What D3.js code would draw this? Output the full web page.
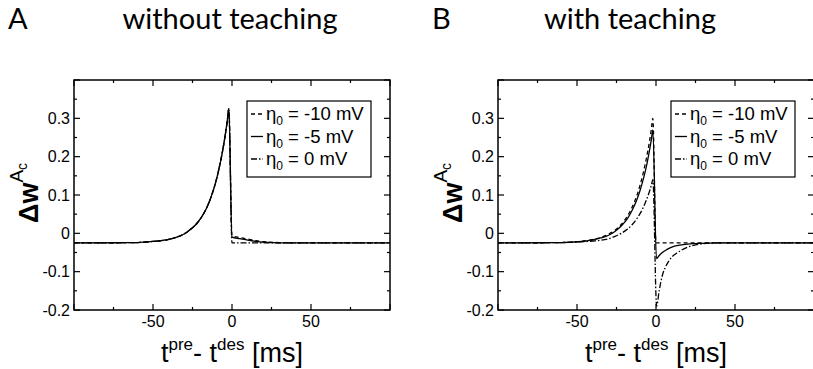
<!DOCTYPE html>
<html>
<head>
<meta charset="utf-8">
<script src="https://cdn.jsdelivr.net/npm/d3@7"></script>
<style>
  body { margin: 0; background: #fff; }
  svg { display: block; }
  text { fill: #000; }
</style>
</head>
<body>
<svg id="chart" width="813" height="369"></svg>
<script>
// tick values and legend entries
var xTicks = [-50, 0, 50];
var yTicks = [-0.2, -0.1, 0, 0.1, 0.2, 0.3];
var legendLabels = ["-10 mV", "-5 mV", "0 mV"];
var panelNames = ["A", "B"];
var panelTitles = ["without teaching", "with teaching"];

// panel A : rising part is the same for all three curves
var riseA = [[-100,-0.025],[-70,-0.0245],[-60,-0.024],[-50,-0.021],[-40,-0.016],[-35,-0.010],
  [-30,-0.001],[-26,0.011],[-22,0.027],[-18,0.051],[-15,0.076],[-12,0.110],[-10,0.138],
  [-8,0.173],[-6,0.214],[-4,0.264],[-3,0.293],[-2,0.325]];
var tailA10 = [[0,-0.006],[5,-0.011],[10,-0.015],[15,-0.019],[20,-0.022],[30,-0.024],[40,-0.025],[100,-0.025]];
var tailA5  = [[0,-0.010],[5,-0.014],[10,-0.018],[15,-0.021],[20,-0.023],[30,-0.025],[100,-0.025]];
var tailA0  = [[0,-0.025],[100,-0.025]];

// panel B
var b10 = [[-100,-0.025],[-70,-0.0245],[-60,-0.024],[-50,-0.022],[-40,-0.016],[-35,-0.011],
  [-30,-0.002],[-26,0.008],[-22,0.023],[-18,0.046],[-15,0.069],[-12,0.100],[-10,0.127],
  [-8,0.159],[-6,0.197],[-4,0.243],[-3,0.270],[-2,0.300],
  [0,-0.025],[100,-0.025]];
var b5 = [[-100,-0.025],[-70,-0.0245],[-60,-0.024],[-50,-0.022],[-40,-0.017],[-35,-0.012],
  [-30,-0.005],[-26,0.005],[-22,0.019],[-18,0.039],[-15,0.061],[-12,0.089],[-10,0.113],
  [-8,0.142],[-6,0.176],[-4,0.219],[-3,0.243],[-2,0.270],
  [0.3,-0.066],[2,-0.058],[4,-0.050],[7,-0.042],[10,-0.036],[15,-0.031],[20,-0.028],
  [28,-0.026],[40,-0.025],[100,-0.025]];
var b0 = [[-100,-0.025],[-60,-0.024],[-50,-0.023],[-40,-0.020],[-35,-0.018],[-30,-0.014],
  [-26,-0.008],[-22,0.000],[-18,0.011],[-15,0.023],[-12,0.039],[-10,0.052],[-8,0.068],
  [-6,0.088],[-4,0.111],[-3,0.125],[-2,0.140],
  [0.4,-0.190],[2,-0.150],[4,-0.110],[6,-0.088],[8,-0.073],[10,-0.062],[13,-0.052],
  [16,-0.044],[20,-0.036],[25,-0.030],[30,-0.027],[40,-0.025],[100,-0.025]];

var seriesA = [riseA.concat(tailA10), riseA.concat(tailA5), riseA.concat(tailA0)];
var seriesB = [b10, b5, b0];

var dashes = ["4,3", null, "6,2,1.5,2"];

var svg = d3.select("#chart");
var FONT = "'Liberation Sans', Arial, Helvetica, sans-serif";

function drawPanel(i, left, right, titleX, series) {
  var top = 80, bottom = 310;
  var x = d3.scaleLinear().domain([-100, 100]).range([left, right]);
  var y = d3.scaleLinear().domain([-0.2, 0.4]).range([bottom, top]);
  var g = svg.append("g");

  // title
  g.append("text").attr("x", left - 66).attr("y", 29)
    .attr("font-family", "Lato, sans-serif").attr("font-size", 29).text(panelNames[i]);
  g.append("text").attr("x", titleX).attr("y", 29)
    .attr("text-anchor", "middle")
    .attr("font-family", "Lato, sans-serif").attr("font-size", 29).text(panelTitles[i]);

  var clipId = "clip" + i;
  g.append("clipPath").attr("id", clipId).append("rect")
    .attr("x", left).attr("y", top).attr("width", right - left).attr("height", bottom - top);

  var line = d3.line().x(function(d) { return x(d[0]); }).y(function(d) { return y(d[1]); })
    .curve(d3.curveMonotoneX);

  g.append("g").attr("clip-path", "url(#" + clipId + ")")
    .selectAll("path").data(series).enter().append("path")
    .attr("d", line)
    .attr("fill", "none").attr("stroke", "#000").attr("stroke-width", 1.3)
    .attr("stroke-dasharray", function(d, k) { return dashes[k]; });

  // ticks, pointing inward on every side
  var majorX = d3.range(-100, 101, 50), minorX = d3.range(-75, 101, 50);
  var majorY = d3.range(-0.2, 0.41, 0.1), minorY = d3.range(-0.15, 0.4, 0.1);
  var ticks = g.append("g").attr("stroke", "#000").attr("stroke-width", 1.2);
  function addX(vals, len) {
    vals.forEach(function(v) {
      ticks.append("line").attr("x1", x(v)).attr("x2", x(v)).attr("y1", bottom).attr("y2", bottom - len);
      ticks.append("line").attr("x1", x(v)).attr("x2", x(v)).attr("y1", top).attr("y2", top + len);
    });
  }
  function addY(vals, len) {
    vals.forEach(function(v) {
      ticks.append("line").attr("y1", y(v)).attr("y2", y(v)).attr("x1", left).attr("x2", left + len);
      ticks.append("line").attr("y1", y(v)).attr("y2", y(v)).attr("x1", right).attr("x2", right - len);
    });
  }
  addX(majorX, 6); addX(minorX, 3);
  addY(majorY, 6); addY(minorY, 3);

  g.append("rect").attr("x", left).attr("y", top).attr("width", right - left).attr("height", bottom - top)
    .attr("fill", "none").attr("stroke", "#000").attr("stroke-width", 1.5);

  // tick labels
  g.selectAll(".xl").data(xTicks).enter().append("text")
    .attr("x", function(d) { return x(d); }).attr("y", 327)
    .attr("text-anchor", "middle").attr("font-family", FONT).attr("font-size", 16)
    .text(function(d) { return String(d); });
  g.selectAll(".yl").data(yTicks).enter().append("text")
    .attr("x", left - 4).attr("y", function(d) { return y(d) + 5.5; })
    .attr("text-anchor", "end").attr("font-family", FONT).attr("font-size", 16)
    .text(function(d) { return d === 0 ? "0" : d.toFixed(1); });

  // axis titles
  var xl = g.append("text").attr("x", (left + right) / 2).attr("y", 362)
    .attr("text-anchor", "middle").attr("font-family", FONT).attr("font-size", 27);
  xl.append("tspan").text("t");
  xl.append("tspan").attr("dy", -12).attr("font-size", 17).text("pre");
  xl.append("tspan").attr("dy", 12).text("- t");
  xl.append("tspan").attr("dy", -12).attr("font-size", 17).text("des");
  xl.append("tspan").attr("dy", 12).text(" [ms]");

  var yl = g.append("text")
    .attr("transform", "translate(" + (left - 36) + "," + 223 + ") rotate(-90)")
    .attr("font-family", FONT).attr("font-size", 27).attr("font-weight", "bold");
  yl.append("tspan").text("\u0394w");
  yl.append("tspan").attr("dy", -15).attr("font-size", 19).attr("font-weight", "normal").text("A");
  yl.append("tspan").attr("dy", 4).attr("font-size", 14).attr("font-weight", "normal").text("c");

  // legend
  var lx = right - 143, ly = 101;
  var lg = g.append("g");
  lg.append("rect").attr("x", lx).attr("y", ly).attr("width", 124).attr("height", 76)
    .attr("fill", "#fff").attr("stroke", "#000").attr("stroke-width", 1.2);
  legendLabels.forEach(function(lab, k) {
    var by = ly + 19 + k * 22.5;
    lg.append("line").attr("x1", lx + 4).attr("x2", lx + 16).attr("y1", by - 6).attr("y2", by - 6)
      .attr("stroke", "#000").attr("stroke-width", 1.3).attr("stroke-dasharray", dashes[k]);
    var t = lg.append("text").attr("x", lx + 19).attr("y", by)
      .attr("font-family", FONT).attr("font-size", 18.5);
    t.append("tspan").text("\u03b7");
    t.append("tspan").attr("dy", 5).attr("font-size", 12).text("0");
    t.append("tspan").attr("dy", -5).text(" = " + lab);
  });
}

drawPanel(0, 74, 390, 230, seriesA);
drawPanel(1, 498, 814, 630, seriesB);
</script>
</body>
</html>
